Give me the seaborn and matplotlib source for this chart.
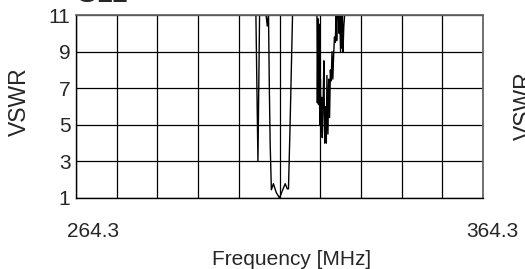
import numpy as np
import pandas as pd
import matplotlib
matplotlib.use("Agg")
import matplotlib.pyplot as plt
import matplotlib.transforms as mtransforms
import seaborn as sns

# S11 trace (MHz, VSWR)
freq = [264.3, 308.5, 309.0, 309.4, 311.0, 311.3, 311.6, 311.8, 312.0, 312.3,
        312.8, 313.5, 314.3, 315.0, 315.7, 316.2, 316.5, 316.9, 317.5,
        323.5, 323.6, 323.75, 323.9, 324.05, 324.2, 324.35, 324.5, 324.65, 324.8,
        325.0, 325.2, 325.4, 325.6, 325.8, 325.95, 326.2, 326.4, 326.6, 326.8,
        327.0, 327.2, 327.4, 327.6, 327.8, 328.0, 328.2, 328.35, 328.5, 328.8,
        328.95, 329.1, 329.3, 329.45, 329.6, 329.75, 329.9, 330.1, 330.3, 364.3]
vswr = [11, 11, 3.0, 11, 11, 10.4, 11, 7.0, 4.0, 1.45,
        1.78, 1.3, 1.0, 1.4, 1.78, 1.5, 1.5, 5.0, 11,
        11, 6.2, 10.8, 6.1, 10.5, 5.0, 7.5, 4.6, 6.5, 4.3,
        6.0, 8.5, 4.0, 6.0, 4.0, 7.7, 4.5, 7.5, 5.4, 8.0,
        7.4, 9.0, 7.5, 8.8, 9.8, 9.5, 11, 9.6, 11, 11,
        10.0, 11, 9.0, 11, 9.2, 11, 9.0, 10.4, 11, 11]

f_min, f_max = 264.3, 364.3
y_ticks = [1, 3, 5, 7, 9, 11]

df = pd.DataFrame({"Frequency": freq, "VSWR": vswr})

sns.set_style("white")
plt.rcParams["font.family"] = ["Liberation Sans", "DejaVu Sans"]

fig = plt.figure(figsize=(5.25, 2.69), dpi=100)
ax = fig.add_axes([0.1448, 0.264, 0.7752, 0.680])

sns.lineplot(data=df, x="Frequency", y="VSWR", sort=False, estimator=None,
             color="black", linewidth=1.0, ax=ax)

ax.set_xlim(f_min, f_max)
ax.set_ylim(1, 11)
xt = np.arange(f_min, f_max + 0.01, 10)
ax.set_xticks(xt)
ax.set_xticklabels(["264.3"] + [""] * (len(xt) - 2) + ["364.3"], fontsize=15)
ax.set_yticks(y_ticks)
ax.set_yticklabels([str(v) for v in y_ticks], fontsize=15)
ax.grid(True, color="black", linewidth=0.9)
ax.tick_params(axis="both", length=0)
ax.tick_params(axis="y", pad=4)
ax.tick_params(axis="x", pad=17.5)

# shift the two frequency labels like in the original
labels = ax.get_xticklabels()
shifts = {0: 17, len(labels) - 1: 9}
for i, dx in shifts.items():
    off = mtransforms.ScaledTranslation(dx / 100, 0, fig.dpi_scale_trans)
    labels[i].set_transform(labels[i].get_transform() + off)

for side in ["left", "bottom"]:
    ax.spines[side].set_color("black")
    ax.spines[side].set_linewidth(1.0)
for side in ["top", "right"]:
    ax.spines[side].set_color("#666666")
    ax.spines[side].set_linewidth(1.3)

ax.set_xlabel("")
ax.set_ylabel("")
fig.text(292 / 525, 4 / 269, "Frequency [MHz]", ha="center", va="baseline",
         fontsize=15)
fig.text(19 / 525, 1 - 102 / 269, "VSWR", rotation=90, ha="center", va="center",
         fontsize=16.5)
fig.text(524 / 525, 1 - 106 / 269, "VSWR", rotation=90, ha="center", va="center",
         fontsize=16.5)
fig.text(77 / 525, 1 - 1.5 / 269, "S11", ha="left", va="baseline", fontsize=22)

fig.savefig("out.png", dpi=100)
